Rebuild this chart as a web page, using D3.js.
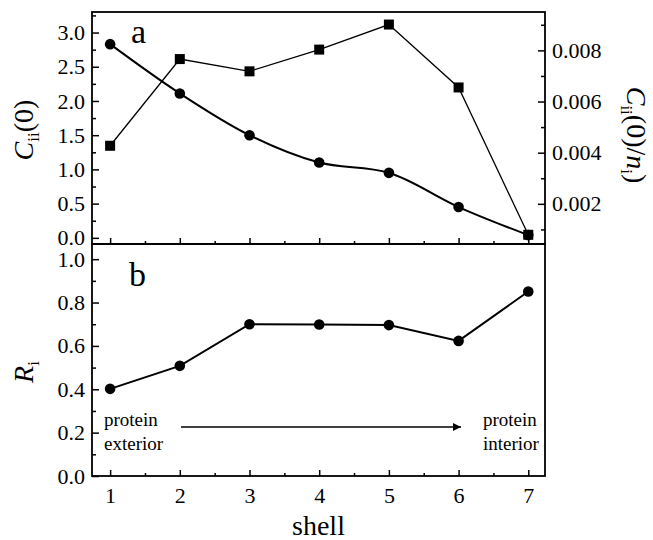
<!DOCTYPE html>
<html>
<head>
<meta charset="utf-8">
<script src="https://cdn.jsdelivr.net/npm/d3@7"></script>
<style>
  body { margin: 0; background: #fff; }
  svg { font-family: "Liberation Serif", "Times New Roman", serif; }
  .tick text { font-family: "Liberation Serif", "Times New Roman", serif; font-size: 22px; fill: #000; }
  .tick line { stroke: #000; stroke-width: 1.5; }
</style>
</head>
<body>
<div id="chart"></div>
<script>
const shells = [1, 2, 3, 4, 5, 6, 7]
const cii = [2.83, 2.11, 1.50, 1.10, 0.95, 0.45, 0.04]
const ciiPerN = [0.00427, 0.00766, 0.00718, 0.00803, 0.00901, 0.00655, 0.00079]
const ratio = [0.402, 0.508, 0.700, 0.699, 0.696, 0.623, 0.851]

const leftTicksTop = [0, 0.5, 1.0, 1.5, 2.0, 2.5, 3.0]
const rightTicksTop = [0.002, 0.004, 0.006, 0.008]
const leftTicksBottom = [0, 0.2, 0.4, 0.6, 0.8, 1.0]

const width = 653
const height = 540
const box = { left: 92, right: 545, top: 12, mid: 244, bottom: 476 }

const svg = d3.select("#chart").append("svg").attr("width", width).attr("height", height)

const xScale = d3.scaleLinear().domain([0.74, 7.24]).range([box.left, box.right])
const ciiScale = d3.scaleLinear().domain([-0.09, 3.3]).range([box.mid, box.top])
const normScale = d3.scaleLinear().domain([0.00043, 0.0095]).range([box.mid, box.top])
const rScale = d3.scaleLinear().domain([0, 1.07]).range([box.bottom, box.mid])

function minorBetween(ticks, step) {
  const out = []
  ticks.forEach(function(t) { out.push(t + step / 2) })
  out.unshift(ticks[0] - step / 2)
  return out
}

function addAxis(axis, tx, ty) {
  const g = svg.append("g")
    .attr("transform", "translate(" + tx + "," + ty + ")")
    .call(axis)
  g.select(".domain").remove()
  g.attr("font-family", null)
  return g
}

// top panel axes
addAxis(d3.axisLeft(ciiScale).tickValues(leftTicksTop).tickSize(-7).tickPadding(7)
  .tickFormat(d3.format(".1f")), box.left, 0)
addAxis(d3.axisLeft(ciiScale).tickValues(minorBetween(leftTicksTop, 0.5).filter(function(d){ return d > -0.09 && d < 3.3 }))
  .tickSize(-4).tickFormat(""), box.left, 0)
addAxis(d3.axisRight(normScale).tickValues(rightTicksTop).tickSize(-7).tickPadding(7)
  .tickFormat(d3.format(".3f")), box.right, 0)
addAxis(d3.axisRight(normScale).tickValues([0.001, 0.003, 0.005, 0.007, 0.009])
  .tickSize(-4).tickFormat(""), box.right, 0)
addAxis(d3.axisBottom(xScale).tickValues(shells).tickSize(-6).tickFormat(""), 0, box.mid)
addAxis(d3.axisBottom(xScale).tickValues([1.5, 2.5, 3.5, 4.5, 5.5, 6.5]).tickSize(-3).tickFormat(""), 0, box.mid)

// bottom panel axes
addAxis(d3.axisLeft(rScale).tickValues(leftTicksBottom).tickSize(-7).tickPadding(7)
  .tickFormat(d3.format(".1f")), box.left, 0)
addAxis(d3.axisLeft(rScale).tickValues([0.1, 0.3, 0.5, 0.7, 0.9]).tickSize(-4).tickFormat(""), box.left, 0)
addAxis(d3.axisBottom(xScale).tickValues(shells).tickSize(-6).tickPadding(11)
  .tickFormat(d3.format("d")), 0, box.bottom)
addAxis(d3.axisBottom(xScale).tickValues([1.5, 2.5, 3.5, 4.5, 5.5, 6.5]).tickSize(-3).tickFormat(""), 0, box.bottom)

// frames
svg.append("rect")
  .attr("x", box.left).attr("y", box.top)
  .attr("width", box.right - box.left).attr("height", box.mid - box.top)
  .attr("fill", "none").attr("stroke", "#000").attr("stroke-width", 1.8)
svg.append("rect")
  .attr("x", box.left).attr("y", box.mid)
  .attr("width", box.right - box.left).attr("height", box.bottom - box.mid)
  .attr("fill", "none").attr("stroke", "#000").attr("stroke-width", 1.8)

// top panel: squares (right axis)
const normData = shells.map(function(s, i) { return [s, ciiPerN[i]] })
svg.append("path")
  .datum(normData)
  .attr("fill", "none").attr("stroke", "#000").attr("stroke-width", 1.3)
  .attr("d", d3.line()
    .x(function(d) { return xScale(d[0]) })
    .y(function(d) { return normScale(d[1]) }))
svg.append("g").selectAll("rect")
  .data(normData)
  .enter()
  .append("rect")
  .attr("x", function(d) { return xScale(d[0]) - 5 })
  .attr("y", function(d) { return normScale(d[1]) - 5 })
  .attr("width", 10).attr("height", 10)
  .style("fill", "#000")

// top panel: circles (left axis), smoothed line
const ciiData = shells.map(function(s, i) { return [s, cii[i]] })
svg.append("path")
  .datum(ciiData)
  .attr("fill", "none").attr("stroke", "#000").attr("stroke-width", 2)
  .attr("d", d3.line()
    .curve(d3.curveCatmullRom)
    .x(function(d) { return xScale(d[0]) })
    .y(function(d) { return ciiScale(d[1]) }))
svg.append("g").selectAll("circle")
  .data(ciiData)
  .enter()
  .append("circle")
  .attr("cx", function(d) { return xScale(d[0]) })
  .attr("cy", function(d) { return ciiScale(d[1]) })
  .attr("r", 5.3)
  .style("fill", "#000")

// bottom panel
const rData = shells.map(function(s, i) { return [s, ratio[i]] })
svg.append("path")
  .datum(rData)
  .attr("fill", "none").attr("stroke", "#000").attr("stroke-width", 2)
  .attr("d", d3.line()
    .x(function(d) { return xScale(d[0]) })
    .y(function(d) { return rScale(d[1]) }))
svg.append("g").selectAll("circle")
  .data(rData)
  .enter()
  .append("circle")
  .attr("cx", function(d) { return xScale(d[0]) })
  .attr("cy", function(d) { return rScale(d[1]) })
  .attr("r", 5.3)
  .style("fill", "#000")

// panel letters
svg.append("text").attr("x", 131).attr("y", 43).attr("font-size", 34).text("a")
svg.append("text").attr("x", 129).attr("y", 286).attr("font-size", 34).text("b")

// arrow annotation
svg.append("defs").append("marker")
  .attr("id", "head")
  .attr("viewBox", "0 0 10 10").attr("refX", 10).attr("refY", 5)
  .attr("markerWidth", 10).attr("markerHeight", 8)
  .attr("markerUnits", "userSpaceOnUse")
  .attr("orient", "auto")
  .append("path").attr("d", "M0,0 L10,5 L0,10 Z").attr("fill", "#000")
svg.append("line")
  .attr("x1", 181).attr("y1", 427).attr("x2", 461).attr("y2", 427)
  .attr("stroke", "#000").attr("stroke-width", 1.3)
  .attr("marker-end", "url(#head)")

const notes = svg.append("g").attr("font-size", 19)
notes.append("text").attr("x", 104).attr("y", 426).text("protein")
notes.append("text").attr("x", 104).attr("y", 450).text("exterior")
notes.append("text").attr("x", 483).attr("y", 426).text("protein")
notes.append("text").attr("x", 483).attr("y", 450).text("interior")

// axis titles
svg.append("text").attr("x", box.left + (box.right - box.left) / 2).attr("y", 535)
  .attr("text-anchor", "middle").attr("font-size", 28).text("shell")

const leftTitle = svg.append("text")
  .attr("transform", "translate(33,130) rotate(-90)")
  .attr("text-anchor", "middle").attr("font-size", 28)
leftTitle.append("tspan").attr("font-style", "italic").text("C")
leftTitle.append("tspan").attr("font-size", 17).attr("dy", 6).text("ii")
leftTitle.append("tspan").attr("dy", -6).text("(0)")

const rightTitle = svg.append("text")
  .attr("transform", "translate(627,135) rotate(90)")
  .attr("text-anchor", "middle").attr("font-size", 28)
rightTitle.append("tspan").attr("font-style", "italic").text("C")
rightTitle.append("tspan").attr("font-size", 17).attr("dy", 6).text("ii")
rightTitle.append("tspan").attr("dy", -6).text("(0)/")
rightTitle.append("tspan").attr("font-style", "italic").text("n")
rightTitle.append("tspan").attr("font-size", 17).attr("dy", 6).text("i")
rightTitle.append("tspan").attr("dy", -6).text(")")

const rTitle = svg.append("text")
  .attr("transform", "translate(33,372) rotate(-90)")
  .attr("text-anchor", "middle").attr("font-size", 28)
rTitle.append("tspan").attr("font-style", "italic").text("R")
rTitle.append("tspan").attr("font-size", 17).attr("dy", 6).text("i")
</script>
</body>
</html>
